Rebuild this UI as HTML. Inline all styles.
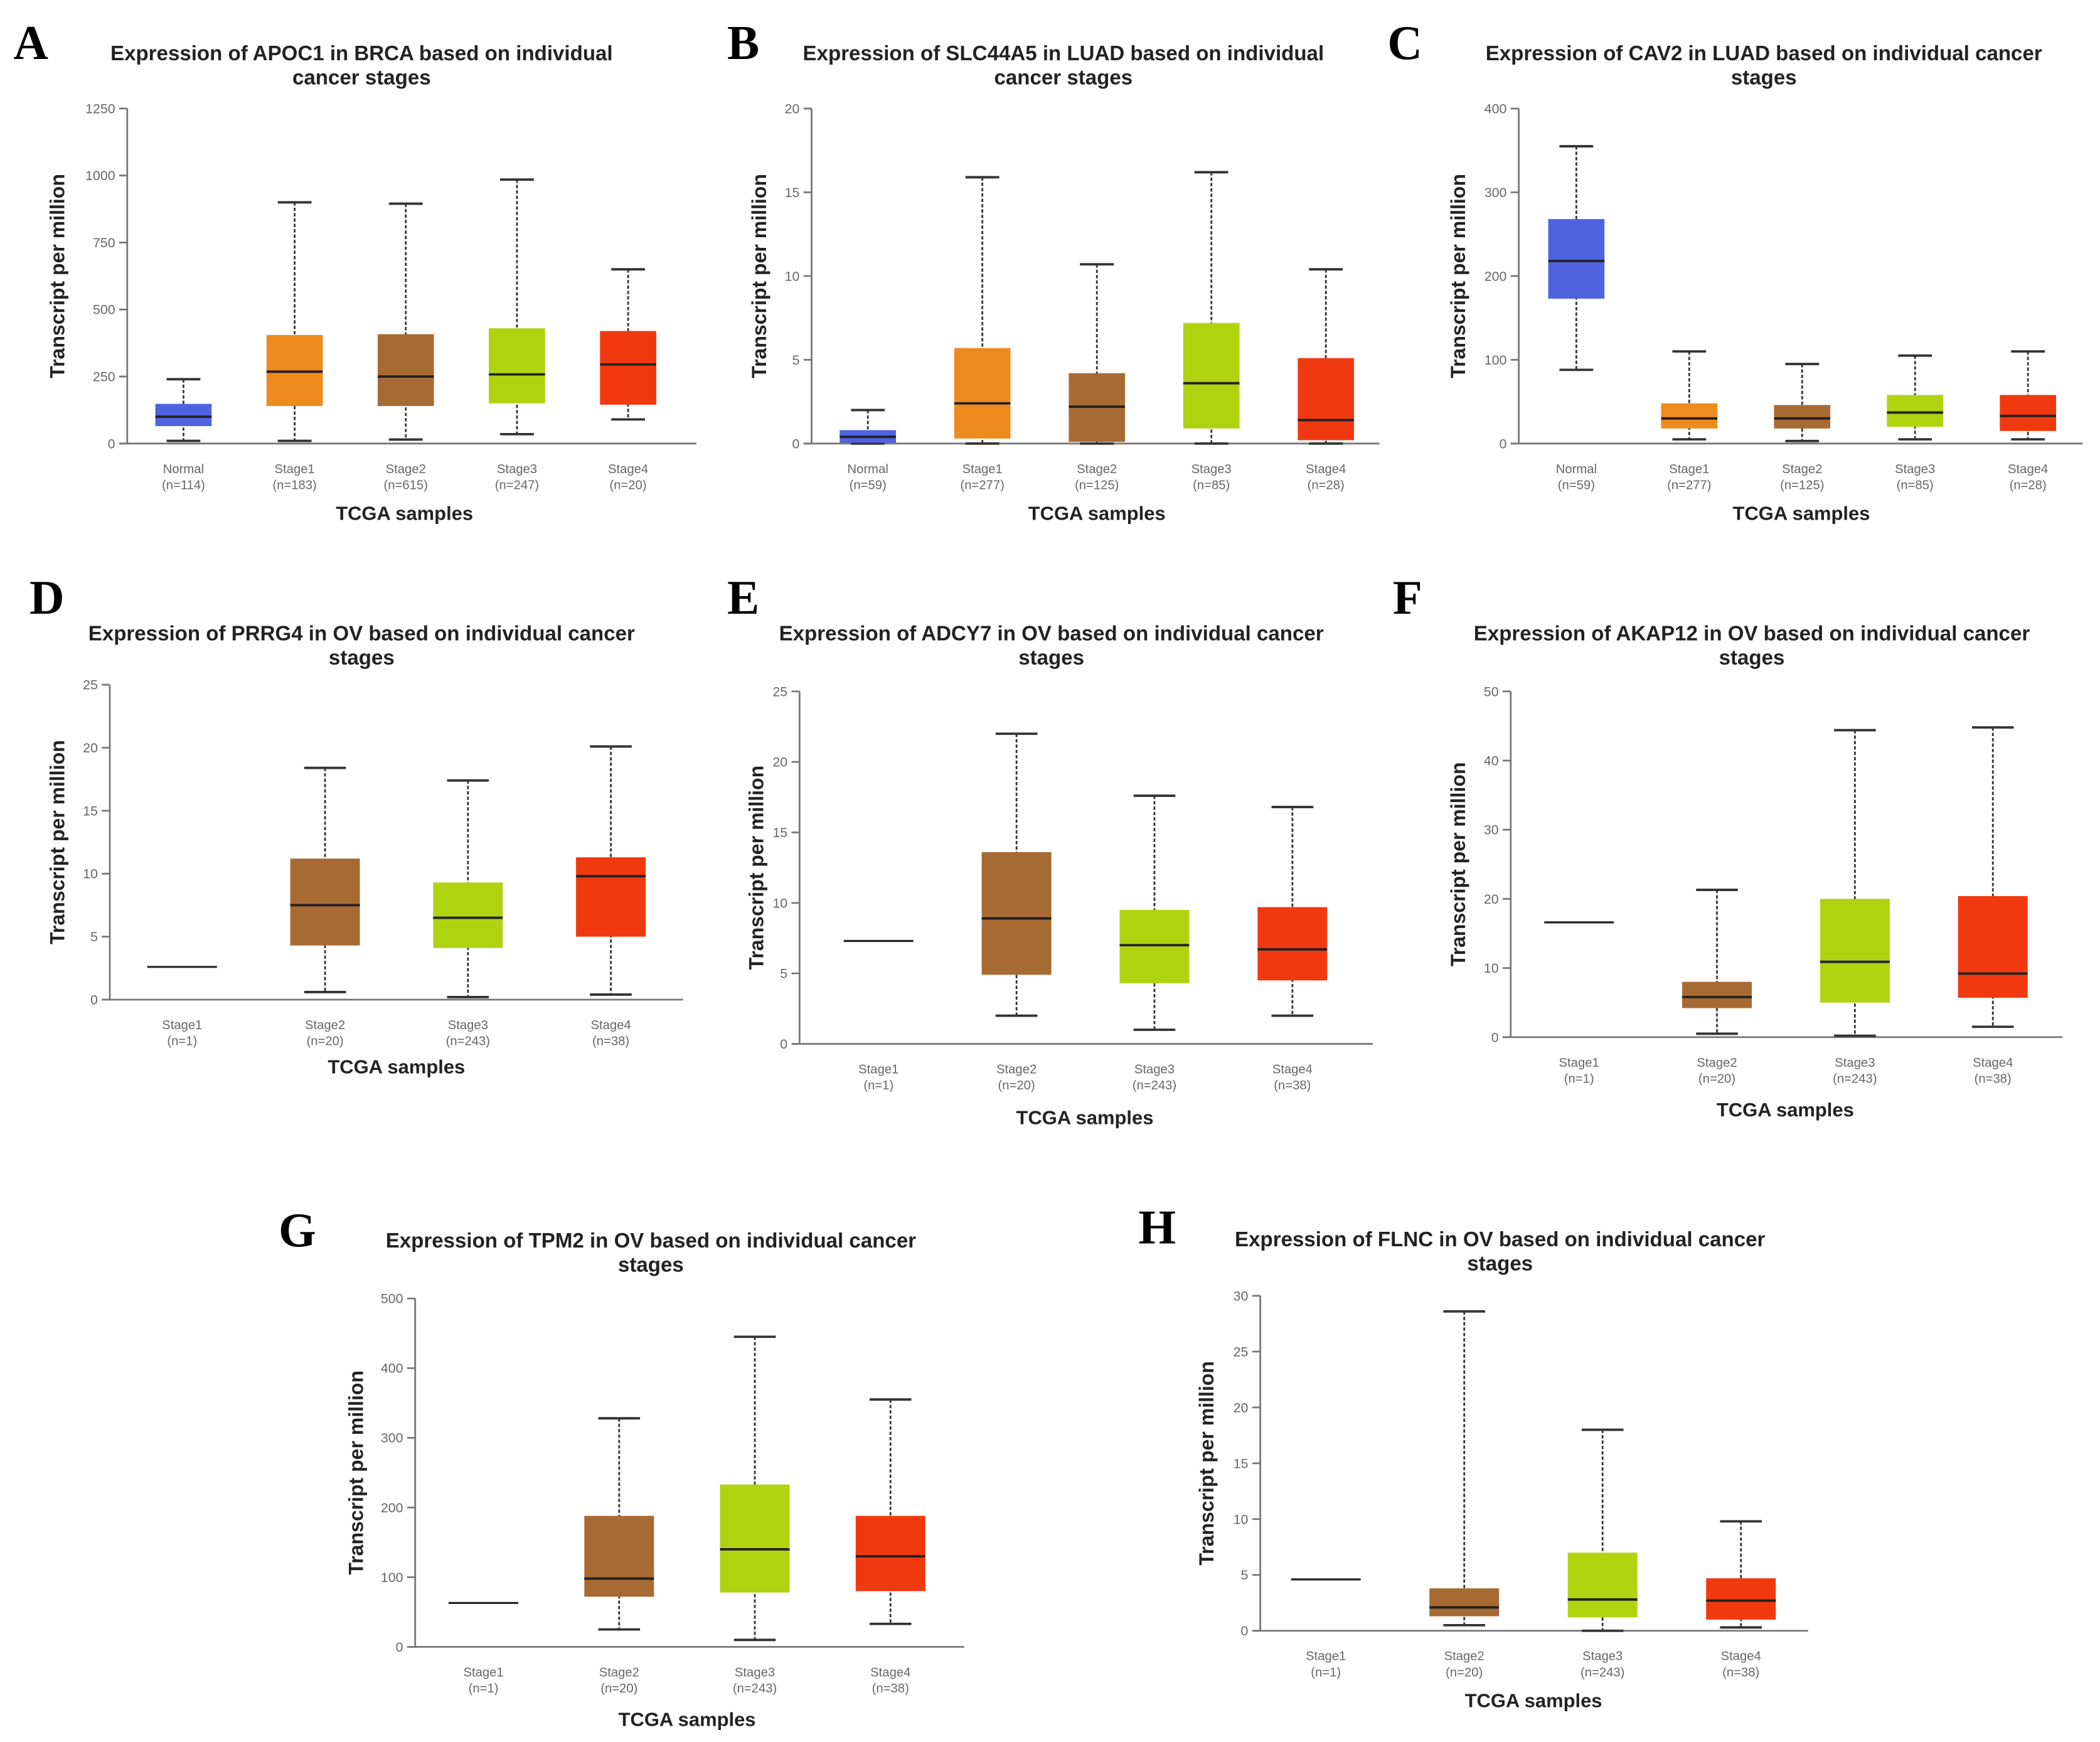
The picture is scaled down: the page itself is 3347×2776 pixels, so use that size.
<!DOCTYPE html>
<html><head><meta charset="utf-8"><style>
html,body{margin:0;padding:0;background:#fff;}
svg{display:block;}
text{font-family:"Liberation Sans",Arial,sans-serif;}
text.letter{font-family:"Liberation Serif","Times New Roman",serif;}
</style></head><body>
<svg id="fig" width="3347" height="2776" viewBox="0 0 1568 1300" preserveAspectRatio="none" xmlns="http://www.w3.org/2000/svg"></svg>
<script>
// ---- data arrays (whisker low, q1, median, q3, whisker high) ----
const catsA = ["Normal","Stage1","Stage2","Stage3","Stage4"];
const nA = ["(n=114)","(n=183)","(n=615)","(n=247)","(n=20)"];
const lowA = [10,10,15,35,90], q1A=[65,140,140,150,145], medA=[100,268,250,258,295], q3A=[148,405,408,430,420], highA=[240,900,895,985,650];
const ticksA = [0,250,500,750,1000,1250];

const catsB = ["Normal","Stage1","Stage2","Stage3","Stage4"];
const nB = ["(n=59)","(n=277)","(n=125)","(n=85)","(n=28)"];
const lowB=[0,0,0,0,0], q1B=[0.05,0.3,0.1,0.9,0.2], medB=[0.4,2.4,2.2,3.6,1.4], q3B=[0.8,5.7,4.2,7.2,5.1], highB=[2,15.9,10.7,16.2,10.4];
const ticksB=[0,5,10,15,20];

const catsC = ["Normal","Stage1","Stage2","Stage3","Stage4"];
const nC = ["(n=59)","(n=277)","(n=125)","(n=85)","(n=28)"];
const lowC=[88,5,3,5,5], q1C=[173,18,18,20,15], medC=[218,30,30,37,33], q3C=[268,48,46,58,58], highC=[355,110,95,105,110];
const ticksC=[0,100,200,300,400];

const catsOV = ["Stage1","Stage2","Stage3","Stage4"];
const nOV = ["(n=1)","(n=20)","(n=243)","(n=38)"];

const lowD=[2.6,0.6,0.2,0.4], q1D=[2.6,4.3,4.1,5.0], medD=[2.6,7.5,6.5,9.8], q3D=[2.6,11.2,9.3,11.3], highD=[2.6,18.4,17.4,20.1];
const ticksD=[0,5,10,15,20,25];

const lowE=[7.3,2,1,2], q1E=[7.3,4.9,4.3,4.5], medE=[7.3,8.9,7.0,6.7], q3E=[7.3,13.6,9.5,9.7], highE=[7.3,22,17.6,16.8];
const ticksE=[0,5,10,15,20,25];

const lowF=[16.6,0.5,0.2,1.5], q1F=[16.6,4.2,5,5.7], medF=[16.6,5.8,10.9,9.2], q3F=[16.6,8,20,20.4], highF=[16.6,21.3,44.4,44.8];
const ticksF=[0,10,20,30,40,50];

const lowG=[63,25,10,33], q1G=[63,72,78,80], medG=[63,98,140,130], q3G=[63,188,233,188], highG=[63,328,445,355];
const ticksG=[0,100,200,300,400,500];

const lowH=[4.6,0.5,0,0.3], q1H=[4.6,1.3,1.2,1.0], medH=[4.6,2.1,2.8,2.7], q3H=[4.6,3.8,7.0,4.7], highH=[4.6,28.6,18,9.8];
const ticksH=[0,5,10,15,20,25,30];

const COL = {Normal:"#4f63e0",Stage1:"#ef8a1f",Stage2:"#a86a33",Stage3:"#b0d30f",Stage4:"#f0390f"};
const NS="http://www.w3.org/2000/svg";
const svg=document.getElementById('fig');
function mk(tag,attrs,parent){const e=document.createElementNS(NS,tag);for(const k in attrs)e.setAttribute(k,attrs[k]);(parent||svg).appendChild(e);return e;}

function panel(p){
  const g=mk('g',{});
  
  
  const y=v=>p.y0-(v/p.max)*(p.y0-p.yTop);
  const L=mk('text',{class:'letter',x:p.lx,y:p.ly,'font-size':36,'font-weight':'bold',fill:'#000'},g);L.textContent=p.letter;
  
  p.title.forEach((t,i)=>{const e=mk('text',{x:p.tx,y:p.ty+i*18,'font-size':15.5,'font-weight':'bold','text-anchor':'middle',fill:'#222'},g);e.textContent=t;
    });
  const ax=mk('line',{x1:p.ax,y1:p.yTop,x2:p.ax,y2:p.y0,stroke:'#777','stroke-width':1.3},g);
  
  const xx=mk('line',{x1:p.ax-6,y1:p.y0,x2:p.axEnd,y2:p.y0,stroke:'#777','stroke-width':1.3},g);
  
  p.ticks.forEach(t=>{mk('line',{x1:p.ax-6,y1:y(t),x2:p.ax,y2:y(t),stroke:'#777','stroke-width':1.3},g);
    const e=mk('text',{x:p.ax-9,y:y(t)+3.5,'font-size':10,'text-anchor':'end',fill:'#666'},g);e.textContent=t;
    });
  const yl=mk('text',{x:0,y:0,'font-size':15,'font-weight':'bold','text-anchor':'middle',fill:'#222',transform:`translate(${p.ylx},${(p.yTop+p.y0)/2}) rotate(-90)`},g);
  yl.textContent='Transcript per million';
  const xl=mk('text',{x:p.xtx,y:p.xty,'font-size':14.5,'font-weight':'bold','text-anchor':'middle',fill:'#222'},g);
  xl.textContent='TCGA samples';
  p.cats.forEach((c,i)=>{
    const cx=p.x0+i*p.dx, w=p.bw;
    const a=mk('text',{x:cx,y:p.y0+22,'font-size':9.5,'text-anchor':'middle',fill:'#666'},g);a.textContent=c;
    
    const b=mk('text',{x:cx,y:p.y0+34,'font-size':9.5,'text-anchor':'middle',fill:'#666'},g);b.textContent=p.n[i];
    
    const bg=mk('g',{},g);
    
    if(p.high[i]===p.low[i]){mk('line',{x1:cx-w/2,y1:y(p.med[i]),x2:cx+w/2,y2:y(p.med[i]),stroke:'#222','stroke-width':1.5},bg);return;}
    mk('line',{x1:cx,y1:y(p.high[i]),x2:cx,y2:y(p.low[i]),stroke:'#333','stroke-width':1.3,'stroke-dasharray':'2.5,1.5'},bg);
    mk('line',{x1:cx-w*0.3,y1:y(p.high[i]),x2:cx+w*0.3,y2:y(p.high[i]),stroke:'#333','stroke-width':1.8},bg);
    mk('line',{x1:cx-w*0.3,y1:y(p.low[i]),x2:cx+w*0.3,y2:y(p.low[i]),stroke:'#333','stroke-width':1.8},bg);
    mk('rect',{x:cx-w/2,y:y(p.q3[i]),width:w,height:Math.max(1,y(p.q1[i])-y(p.q3[i])),fill:COL[c]},bg);
    mk('line',{x1:cx-w/2,y1:y(p.med[i]),x2:cx+w/2,y2:y(p.med[i]),stroke:'#222','stroke-width':1.8},bg);
  });
}
const P=[
 {letter:'A',lx:10,ly:44,title:['Expression of APOC1 in BRCA based on individual','cancer stages'],tx:270,ty:45,ax:95,axEnd:520,yTop:81,y0:331,max:1250,ticks:ticksA,cats:catsA,n:nA,low:lowA,q1:q1A,med:medA,q3:q3A,high:highA,x0:137,dx:83,bw:42,ylx:48,xtx:302,xty:388},
 {letter:'B',lx:543,ly:44,title:['Expression of SLC44A5 in LUAD based on individual','cancer stages'],tx:794,ty:45,ax:606,axEnd:1030,yTop:81,y0:331,max:20,ticks:ticksB,cats:catsB,n:nB,low:lowB,q1:q1B,med:medB,q3:q3B,high:highB,x0:648,dx:85.5,bw:42,ylx:572,xtx:819,xty:388},
 {letter:'C',lx:1036,ly:44,title:['Expression of CAV2 in LUAD based on individual cancer','stages'],tx:1317,ty:45,ax:1134,axEnd:1555,yTop:81,y0:331,max:400,ticks:ticksC,cats:catsC,n:nC,low:lowC,q1:q1C,med:medC,q3:q3C,high:highC,x0:1177,dx:84.3,bw:42,ylx:1094,xtx:1345,xty:388},
 {letter:'D',lx:22,ly:458,title:['Expression of PRRG4 in OV based on individual cancer','stages'],tx:270,ty:478,ax:82,axEnd:510,yTop:511,y0:746,max:25,ticks:ticksD,cats:catsOV,n:nOV,low:lowD,q1:q1D,med:medD,q3:q3D,high:highD,x0:136,dx:106.7,bw:52,ylx:48,xtx:296,xty:801},
 {letter:'E',lx:543,ly:458,title:['Expression of ADCY7 in OV based on individual cancer','stages'],tx:785,ty:478,ax:597,axEnd:1025,yTop:516,y0:779,max:25,ticks:ticksE,cats:catsOV,n:nOV,low:lowE,q1:q1E,med:medE,q3:q3E,high:highE,x0:656,dx:103,bw:52,ylx:570,xtx:810,xty:839},
 {letter:'F',lx:1040,ly:458,title:['Expression of AKAP12 in OV based on individual cancer','stages'],tx:1308,ty:478,ax:1128,axEnd:1540,yTop:516,y0:774,max:50,ticks:ticksF,cats:catsOV,n:nOV,low:lowF,q1:q1F,med:medF,q3:q3F,high:highF,x0:1179,dx:103,bw:52,ylx:1094,xtx:1333,xty:833},
 {letter:'G',lx:208,ly:930,title:['Expression of TPM2 in OV based on individual cancer','stages'],tx:486,ty:931,ax:310,axEnd:720,yTop:969,y0:1229,max:500,ticks:ticksG,cats:catsOV,n:nOV,low:lowG,q1:q1G,med:medG,q3:q3G,high:highG,x0:361,dx:101.3,bw:52,ylx:271,xtx:513,xty:1288},
 {letter:'H',lx:850,ly:928,title:['Expression of FLNC in OV based on individual cancer','stages'],tx:1120,ty:930,ax:941,axEnd:1350,yTop:967,y0:1217,max:30,ticks:ticksH,cats:catsOV,n:nOV,low:lowH,q1:q1H,med:medH,q3:q3H,high:highH,x0:990,dx:103.3,bw:52,ylx:906,xtx:1145,xty:1274}
];
P.forEach(panel);
</script>
</body></html>
